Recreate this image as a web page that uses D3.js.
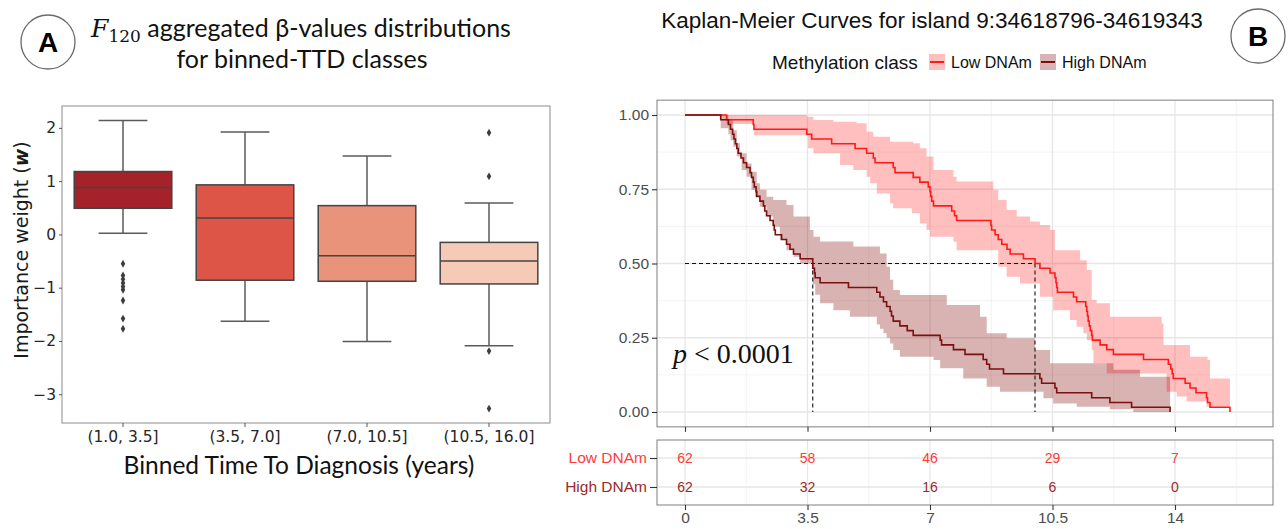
<!DOCTYPE html>
<html>
<head>
<meta charset="utf-8">
<script src="https://cdn.jsdelivr.net/npm/d3@7"></script>
<style>
  body { margin: 0; background: #fff; }
  svg { display: block; }
</style>
</head>
<body>
<div id="chart"></div>
<script>
// ---------- panel A data (box plot) ----------
const binLabels = ["(1.0, 3.5]", "(3.5, 7.0]", "(7.0, 10.5]", "(10.5, 16.0]"];
const whiskerLow = [0.02, -1.63, -2.01, -2.09];
const boxQ1 = [0.49, -0.86, -0.88, -0.93];
const boxMedian = [0.88, 0.31, -0.40, -0.50];
const boxQ3 = [1.18, 0.93, 0.54, -0.15];
const whiskerHigh = [2.14, 1.92, 1.47, 0.59];
const outliers = [
  [-0.55, -0.77, -0.84, -0.91, -0.98, -1.04, -1.24, -1.58, -1.77],
  [],
  [],
  [1.91, 1.09, -2.19, -3.27]
];
const boxColors = ["#a5222a", "#dc5547", "#e9937a", "#f5cbb8"];
const weightTicks = [-3, -2, -1, 0, 1, 2];

// ---------- panel B data (Kaplan-Meier) ----------
const timeTicks = [0, 3.5, 7, 10.5, 14];
const survTicks = [0, 0.25, 0.5, 0.75, 1];
const groups = ["Low DNAm", "High DNAm"];
const riskLow = [62, 58, 46, 29, 7];
const riskHigh = [62, 32, 16, 6, 0];

// [time, survival]
const lowCurve = [[0,1],[1.19,0.984],[1.95,0.968],[1.97,0.952],[3.48,0.935],[3.62,0.919],[4.19,0.903],[4.86,0.887],[5.19,0.871],[5.38,0.855],[5.43,0.839],[5.95,0.823],[6.00,0.806],[6.52,0.790],[6.71,0.774],[6.95,0.758],[7.00,0.742],[7.02,0.726],[7.05,0.710],[7.10,0.694],[7.62,0.677],[7.70,0.661],[7.76,0.645],[8.74,0.629],[8.76,0.613],[8.86,0.597],[8.95,0.581],[9.05,0.565],[9.20,0.548],[9.29,0.532],[9.67,0.516],[10.00,0.500],[10.14,0.484],[10.43,0.468],[10.57,0.452],[10.60,0.435],[10.62,0.419],[10.64,0.403],[11.10,0.387],[11.19,0.371],[11.45,0.355],[11.48,0.339],[11.50,0.323],[11.52,0.306],[11.55,0.290],[11.58,0.274],[11.62,0.258],[11.64,0.242],[11.86,0.226],[12.05,0.210],[12.24,0.194],[13.10,0.177],[13.81,0.161],[13.88,0.145],[13.92,0.129],[13.95,0.113],[14.29,0.097],[14.43,0.081],[14.60,0.065],[14.90,0.048],[14.93,0.032],[15.00,0.016],[15.57,0.0]];
const highCurve = [[0,1],[1.02,0.984],[1.24,0.968],[1.30,0.952],[1.36,0.935],[1.40,0.919],[1.44,0.903],[1.48,0.887],[1.52,0.871],[1.60,0.855],[1.67,0.839],[1.76,0.823],[1.86,0.806],[1.90,0.790],[1.95,0.774],[1.98,0.758],[2.03,0.742],[2.05,0.726],[2.14,0.710],[2.24,0.694],[2.28,0.677],[2.33,0.661],[2.43,0.645],[2.52,0.629],[2.55,0.613],[2.58,0.597],[2.76,0.581],[2.90,0.565],[3.00,0.548],[3.10,0.532],[3.29,0.516],[3.65,0.484],[3.70,0.468],[3.72,0.452],[3.86,0.435],[4.67,0.419],[5.48,0.403],[5.57,0.387],[5.67,0.371],[5.76,0.355],[5.86,0.339],[5.90,0.323],[5.95,0.306],[6.14,0.290],[6.35,0.274],[6.52,0.258],[7.29,0.242],[7.33,0.226],[7.67,0.210],[8.00,0.194],[8.52,0.177],[8.62,0.161],[8.70,0.145],[9.10,0.129],[10.14,0.113],[10.19,0.097],[10.57,0.081],[10.62,0.065],[11.62,0.048],[12.14,0.032],[12.76,0.016],[13.86,0.0]];

// confidence bands, [time, bound]
const lowBandUpper = [[0,1],[3.48,0.994],[3.67,0.983],[4.24,0.977],[4.90,0.972],[5.19,0.944],[5.38,0.927],[5.86,0.910],[6.52,0.905],[6.71,0.888],[6.90,0.860],[7.10,0.815],[7.67,0.792],[7.76,0.776],[8.81,0.748],[8.95,0.714],[9.19,0.680],[9.48,0.658],[9.86,0.641],[10.14,0.630],[10.43,0.613],[10.57,0.545],[11.29,0.511],[11.48,0.478],[11.62,0.377],[11.76,0.366],[12.14,0.321],[13.62,0.298],[13.67,0.226],[14.43,0.186],[14.93,0.175],[15.00,0.113],[15.57,0.113]];
const lowBandLower = [[0,1],[1.19,0.970],[1.97,0.932],[3.52,0.888],[3.67,0.871],[4.43,0.832],[4.81,0.815],[5.19,0.792],[5.29,0.770],[5.48,0.736],[5.86,0.702],[5.95,0.686],[6.48,0.669],[6.71,0.635],[6.90,0.613],[7.00,0.590],[7.67,0.573],[7.76,0.545],[8.95,0.489],[9.19,0.455],[9.57,0.433],[10.14,0.388],[10.52,0.343],[11.00,0.310],[11.19,0.287],[11.38,0.265],[11.48,0.242],[11.62,0.209],[11.67,0.164],[12.05,0.130],[13.76,0.068],[14.05,0.052],[14.33,0.035],[14.90,0.018],[15.57,0.018]];
const highBandUpper = [[0,1],[1.24,0.985],[1.38,0.949],[1.48,0.905],[1.57,0.871],[1.76,0.837],[1.90,0.809],[2.05,0.770],[2.14,0.748],[2.33,0.725],[2.52,0.714],[2.90,0.697],[3.10,0.658],[3.57,0.613],[3.67,0.590],[3.86,0.574],[4.81,0.557],[5.57,0.534],[5.76,0.489],[5.86,0.445],[5.95,0.411],[6.14,0.394],[7.48,0.360],[8.43,0.321],[8.62,0.265],[9.19,0.248],[10.00,0.209],[10.43,0.164],[12.24,0.142],[13.00,0.119],[13.86,0.119]];
const highBandLower = [[0,1],[1.02,0.955],[1.24,0.935],[1.30,0.915],[1.38,0.893],[1.48,0.860],[1.62,0.815],[1.76,0.792],[1.90,0.748],[2.00,0.725],[2.14,0.691],[2.33,0.658],[2.52,0.624],[2.71,0.579],[2.90,0.545],[3.10,0.523],[3.29,0.500],[3.65,0.430],[3.72,0.395],[3.86,0.366],[4.24,0.343],[4.71,0.321],[5.48,0.295],[5.57,0.280],[5.67,0.265],[5.76,0.250],[5.86,0.231],[5.95,0.209],[6.14,0.186],[7.10,0.175],[7.29,0.147],[7.95,0.113],[8.62,0.085],[9.00,0.068],[10.24,0.046],[10.52,0.029],[11.19,0.018],[12.14,0.009],[12.81,0.0],[13.86,0.0]];

const medianLow = 10.0;
const medianHigh = 3.65;

const lowColor = "#ff1a1a";
const highColor = "#7d0f0f";

// ---------- svg ----------
const svg = d3.select("#chart").append("svg")
  .attr("width", 1288)
  .attr("height", 529);

function panelLetter(cx, cy, letter) {
  svg.append("circle")
    .attr("cx", cx).attr("cy", cy).attr("r", 27)
    .attr("fill", "#fff").attr("stroke", "#6b6b6b").attr("stroke-width", 1.3);
  svg.append("text")
    .attr("x", cx).attr("y", cy + 10)
    .attr("text-anchor", "middle")
    .style("font-family", "Liberation Sans, Arial, sans-serif")
    .style("font-weight", "bold")
    .style("font-size", "28px")
    .text(letter);
}

// ===== Panel A =====
panelLetter(48, 42, "A");

const titleA = svg.append("text")
  .attr("x", 301).attr("y", 37)
  .attr("text-anchor", "middle")
  .style("font-family", "Lato, sans-serif")
  .style("font-size", "25px")
  .attr("fill", "#111");
titleA.append("tspan")
  .style("font-family", "DejaVu Serif, serif")
  .style("font-style", "italic")
  .text("F");
titleA.append("tspan")
  .attr("dy", 5)
  .style("font-family", "DejaVu Serif, serif")
  .style("font-size", "17px")
  .text("120");
titleA.append("tspan")
  .attr("dy", -5)
  .text(" aggregated β-values distributions");

svg.append("text")
  .attr("x", 302).attr("y", 68)
  .attr("text-anchor", "middle")
  .style("font-family", "Lato, sans-serif")
  .style("font-size", "25px")
  .attr("fill", "#111")
  .text("for binned-TTD classes");

const plotA = { left: 62, right: 550, top: 106, bottom: 423 };

const xA = d3.scaleBand()
  .domain(binLabels)
  .range([plotA.left, plotA.right])
  .paddingInner(0.2)
  .paddingOuter(0.1);

const yA = d3.scaleLinear()
  .domain([-3.54, 2.41])
  .range([plotA.bottom, plotA.top]);

const gA = svg.append("g");

gA.append("rect")
  .attr("x", plotA.left).attr("y", plotA.top)
  .attr("width", plotA.right - plotA.left).attr("height", plotA.bottom - plotA.top)
  .attr("fill", "none").attr("stroke", "#8c8c8c").attr("stroke-width", 1);

const yAxisA = gA.append("g")
  .attr("transform", `translate(${plotA.left},0)`)
  .call(d3.axisLeft(yA).tickValues(weightTicks).tickSize(3).tickFormat(d3.format("d")));

const xAxisA = gA.append("g")
  .attr("transform", `translate(0,${plotA.bottom})`)
  .call(d3.axisBottom(xA).tickSize(4));

[yAxisA, xAxisA].forEach(ax => {
  ax.select(".domain").remove();
  ax.selectAll(".tick line").attr("stroke", "#555");
  ax.selectAll(".tick text")
    .style("font-family", "DejaVu Sans, sans-serif")
    .style("font-size", "15.5px")
    .attr("fill", "#262626");
});
yAxisA.selectAll(".tick text").attr("x", -6);
xAxisA.selectAll(".tick text").attr("y", 8);

const boxStroke = "#444";
binLabels.forEach((lbl, i) => {
  const x0 = xA(lbl);
  const bw = xA.bandwidth();
  const cx = x0 + bw / 2;
  const g = gA.append("g");

  // whiskers
  g.append("line")
    .attr("x1", cx).attr("x2", cx)
    .attr("y1", yA(boxQ3[i])).attr("y2", yA(whiskerHigh[i]))
    .attr("stroke", "#5a5a5a").attr("stroke-width", 1.5);
  g.append("line")
    .attr("x1", cx).attr("x2", cx)
    .attr("y1", yA(boxQ1[i])).attr("y2", yA(whiskerLow[i]))
    .attr("stroke", "#5a5a5a").attr("stroke-width", 1.5);
  [whiskerHigh[i], whiskerLow[i]].forEach(v => {
    g.append("line")
      .attr("x1", cx - bw / 4).attr("x2", cx + bw / 4)
      .attr("y1", yA(v)).attr("y2", yA(v))
      .attr("stroke", "#5a5a5a").attr("stroke-width", 1.5);
  });

  // box
  g.append("rect")
    .attr("x", x0).attr("width", bw)
    .attr("y", yA(boxQ3[i]))
    .attr("height", yA(boxQ1[i]) - yA(boxQ3[i]))
    .attr("fill", boxColors[i])
    .attr("stroke", boxStroke).attr("stroke-width", 1.5);

  g.append("line")
    .attr("x1", x0).attr("x2", x0 + bw)
    .attr("y1", yA(boxMedian[i])).attr("y2", yA(boxMedian[i]))
    .attr("stroke", boxStroke).attr("stroke-width", 1.5);

  // fliers
  g.selectAll(".flier")
    .data(outliers[i])
    .enter().append("path")
    .attr("class", "flier")
    .attr("transform", d => `translate(${cx},${yA(d)})`)
    .attr("d", d3.symbol(d3.symbolDiamond, 18))
    .attr("fill", "#3d3d3d");
});

svg.append("text")
  .attr("transform", "translate(28,250) rotate(-90)")
  .attr("text-anchor", "middle")
  .style("font-family", "DejaVu Sans, sans-serif")
  .style("font-size", "19px")
  .attr("fill", "#1a1a1a")
  .call(t => {
    t.append("tspan").text("Importance weight (");
    t.append("tspan").style("font-weight", "bold").style("font-style", "italic").text("w");
    t.append("tspan").text(")");
  });

svg.append("text")
  .attr("x", 299).attr("y", 474)
  .attr("text-anchor", "middle")
  .style("font-family", "Lato, sans-serif")
  .style("font-size", "24.5px")
  .attr("fill", "#111")
  .text("Binned Time To Diagnosis (years)");

// ===== Panel B =====
panelLetter(1258, 36, "B");

const fontB = "Liberation Sans, Arial, sans-serif";

svg.append("text")
  .attr("x", 932).attr("y", 28)
  .attr("text-anchor", "middle")
  .style("font-family", fontB)
  .style("font-size", "22.5px")
  .attr("fill", "#111")
  .text("Kaplan-Meier Curves for island 9:34618796-34619343");

// legend
const legend = svg.append("g").style("font-family", fontB);
legend.append("text")
  .attr("x", 772).attr("y", 69)
  .style("font-size", "19px")
  .attr("fill", "#111")
  .text("Methylation class");
[[929, "#ffbfbf", lowColor, "Low DNAm"], [1040, "#d9b4b4", highColor, "High DNAm"]].forEach(([lx, bg, lc, name]) => {
  legend.append("rect")
    .attr("x", lx).attr("y", 54)
    .attr("width", 16).attr("height", 16)
    .attr("fill", bg);
  legend.append("line")
    .attr("x1", lx + 1).attr("x2", lx + 15)
    .attr("y1", 62).attr("y2", 62)
    .attr("stroke", lc).attr("stroke-width", 2);
  legend.append("text")
    .attr("x", lx + 22).attr("y", 68)
    .style("font-size", "16px")
    .attr("fill", "#111")
    .text(name);
});

const xB = d3.scaleLinear().domain([0, 14]).range([685, 1175]);
const yB = d3.scaleLinear().domain([0, 1]).range([412, 115]);
const xMin = -0.8, xMax = 16.8;

const gB = svg.append("g");
const minorX = timeTicks.map(t => t + 1.75);
const minorY = [0.125, 0.375, 0.625, 0.875];

// grid
gB.selectAll(".vminor").data(minorX).enter().append("line")
  .attr("x1", d => xB(d)).attr("x2", d => xB(d))
  .attr("y1", yB(1.05)).attr("y2", yB(-0.05))
  .attr("stroke", "#f0f0f0").attr("stroke-width", 0.8);
gB.selectAll(".hminor").data(minorY).enter().append("line")
  .attr("x1", xB(xMin)).attr("x2", xB(xMax))
  .attr("y1", d => yB(d)).attr("y2", d => yB(d))
  .attr("stroke", "#f0f0f0").attr("stroke-width", 0.8);
gB.selectAll(".vmajor").data(timeTicks).enter().append("line")
  .attr("x1", d => xB(d)).attr("x2", d => xB(d))
  .attr("y1", yB(1.05)).attr("y2", yB(-0.05))
  .attr("stroke", "#e6e6e6").attr("stroke-width", 1.3);
gB.selectAll(".hmajor").data(survTicks).enter().append("line")
  .attr("x1", xB(xMin)).attr("x2", xB(xMax))
  .attr("y1", d => yB(d)).attr("y2", d => yB(d))
  .attr("stroke", "#e6e6e6").attr("stroke-width", 1.3);

// step bands: merge upper and lower step functions on common times
function stepValue(steps, t) {
  let v = steps[0][1];
  for (const s of steps) { if (s[0] <= t) v = s[1]; else break; }
  return v;
}
function bandRows(upper, lower) {
  const times = Array.from(new Set(upper.map(d => d[0]).concat(lower.map(d => d[0])))).sort((a, b) => a - b);
  return times.map(t => ({ t, lo: stepValue(lower, t), hi: stepValue(upper, t) }));
}

const band = d3.area()
  .x(d => xB(d.t))
  .y0(d => yB(d.lo))
  .y1(d => yB(d.hi))
  .curve(d3.curveStepAfter);

gB.append("path")
  .datum(bandRows(lowBandUpper, lowBandLower))
  .attr("d", band)
  .attr("fill", "#ff0000").attr("fill-opacity", 0.25);
gB.append("path")
  .datum(bandRows(highBandUpper, highBandLower))
  .attr("d", band)
  .attr("fill", "#800000").attr("fill-opacity", 0.3);

// median lines
const dash = "4,3";
gB.append("line")
  .attr("x1", xB(0)).attr("x2", xB(medianLow))
  .attr("y1", yB(0.5)).attr("y2", yB(0.5))
  .attr("stroke", "#111").attr("stroke-width", 1.1).attr("stroke-dasharray", dash);
[medianHigh, medianLow].forEach(m => {
  gB.append("line")
    .attr("x1", xB(m)).attr("x2", xB(m))
    .attr("y1", yB(0.5)).attr("y2", yB(0))
    .attr("stroke", "#111").attr("stroke-width", 1.1).attr("stroke-dasharray", dash);
});

const kmLine = d3.line()
  .x(d => xB(d[0]))
  .y(d => yB(d[1]))
  .curve(d3.curveStepAfter);

gB.append("path").datum(lowCurve).attr("d", kmLine)
  .attr("fill", "none").attr("stroke", lowColor).attr("stroke-width", 1.6);
gB.append("path").datum(highCurve).attr("d", kmLine)
  .attr("fill", "none").attr("stroke", highColor).attr("stroke-width", 1.6);

// frame
gB.append("rect")
  .attr("x", xB(xMin)).attr("y", yB(1.05))
  .attr("width", xB(xMax) - xB(xMin))
  .attr("height", yB(-0.05) - yB(1.05))
  .attr("fill", "none").attr("stroke", "#7f7f7f").attr("stroke-width", 1);

// axes
const yAxisB = gB.append("g")
  .attr("transform", `translate(${xB(xMin)},0)`)
  .call(d3.axisLeft(yB).tickValues(survTicks).tickSize(5).tickFormat(d3.format(".2f")));
const xAxisB = gB.append("g")
  .attr("transform", `translate(0,${yB(-0.05)})`)
  .call(d3.axisBottom(xB).tickValues(timeTicks).tickSize(5).tickFormat(""));
[yAxisB, xAxisB].forEach(ax => {
  ax.select(".domain").remove();
  ax.selectAll(".tick line").attr("stroke", "#333").attr("stroke-width", 1.1);
  ax.selectAll(".tick text")
    .style("font-family", fontB)
    .style("font-size", "15.5px")
    .attr("fill", "#4d4d4d");
});

// p value
const pText = gB.append("text")
  .attr("x", 673).attr("y", 363)
  .style("font-family", "Liberation Serif, serif")
  .style("font-size", "28px")
  .attr("fill", "#111");
pText.append("tspan").style("font-style", "italic").text("p");
pText.append("tspan").text(" < 0.0001");

// ----- risk table -----
const riskTop = 440, riskBottom = 505;
const yR = d3.scalePoint().domain(groups).range([458, 487]);
const gR = svg.append("g");

gR.selectAll(".rvminor").data(minorX).enter().append("line")
  .attr("x1", d => xB(d)).attr("x2", d => xB(d))
  .attr("y1", riskTop).attr("y2", riskBottom)
  .attr("stroke", "#f0f0f0").attr("stroke-width", 0.8);
gR.selectAll(".rvmajor").data(timeTicks).enter().append("line")
  .attr("x1", d => xB(d)).attr("x2", d => xB(d))
  .attr("y1", riskTop).attr("y2", riskBottom)
  .attr("stroke", "#e6e6e6").attr("stroke-width", 1.3);
gR.selectAll(".rhmajor").data(groups).enter().append("line")
  .attr("x1", xB(xMin)).attr("x2", xB(xMax))
  .attr("y1", d => yR(d)).attr("y2", d => yR(d))
  .attr("stroke", "#e6e6e6").attr("stroke-width", 1.3);

[[riskLow, "Low DNAm", "#ff3b3b"], [riskHigh, "High DNAm", "#9a2a2a"]].forEach(([vals, grp, col]) => {
  gR.selectAll(null).data(vals).enter().append("text")
    .attr("x", (d, i) => xB(timeTicks[i]))
    .attr("y", yR(grp) + 5)
    .attr("text-anchor", "middle")
    .style("font-family", fontB)
    .style("font-size", "14px")
    .attr("fill", col)
    .text(d => d);
});

gR.append("rect")
  .attr("x", xB(xMin)).attr("y", riskTop)
  .attr("width", xB(xMax) - xB(xMin))
  .attr("height", riskBottom - riskTop)
  .attr("fill", "none").attr("stroke", "#7f7f7f").attr("stroke-width", 1);

const yAxisR = gR.append("g")
  .attr("transform", `translate(${xB(xMin)},0)`)
  .call(d3.axisLeft(yR).tickSize(7));
const xAxisR = gR.append("g")
  .attr("transform", `translate(0,${riskBottom})`)
  .call(d3.axisBottom(xB).tickValues(timeTicks).tickSize(5).tickFormat(d => d));
[yAxisR, xAxisR].forEach(ax => {
  ax.select(".domain").remove();
  ax.selectAll(".tick line").attr("stroke", "#333").attr("stroke-width", 1.1);
  ax.selectAll(".tick text")
    .style("font-family", fontB)
    .style("font-size", "15.5px")
    .attr("fill", "#4d4d4d");
});
xAxisR.selectAll(".tick text").attr("y", 7);
yAxisR.selectAll(".tick text")
  .attr("x", -10)
  .style("font-size", "15.5px")
  .attr("fill", d => d === "Low DNAm" ? "#ff3b3b" : "#9a2a2a");
</script>
</body>
</html>
